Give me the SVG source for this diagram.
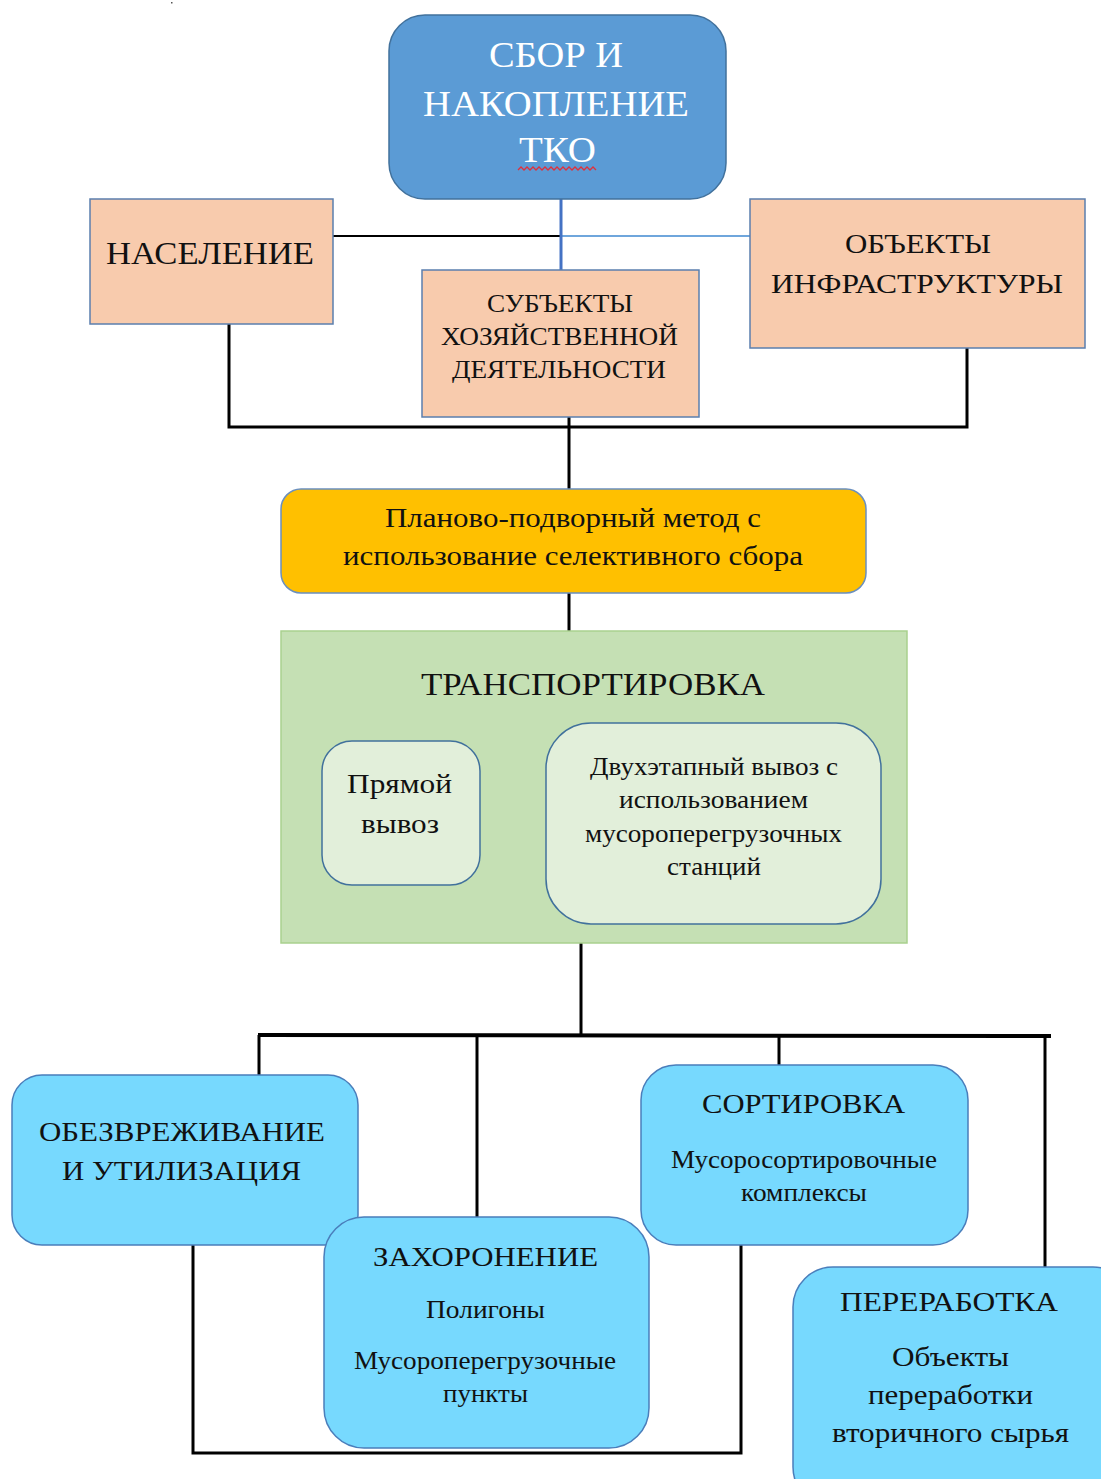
<svg xmlns="http://www.w3.org/2000/svg" width="1101" height="1479" viewBox="0 0 1101 1479">
<style>
text{font-family:"Liberation Serif","Times New Roman",serif;text-anchor:middle;fill:#111}
.w{fill:#fff}
.pe{fill:#F8CBAD;stroke:#5B7FAE;stroke-width:1.5}
.lb{fill:#77D9FE;stroke:#4A7EBB;stroke-width:1.5}
.ln{fill:none;stroke:#000;stroke-width:3}
</style>
<rect width="1101" height="1479" fill="#fff"/>
<rect x="171" y="2" width="1.5" height="1.5" fill="#555"/>
<g id="connectors">
<line x1="333" y1="236" x2="561" y2="236" stroke="#000" stroke-width="2"/>
<line x1="561" y1="236" x2="750" y2="236" stroke="#6FA6DC" stroke-width="2"/>
<line x1="561" y1="199" x2="561" y2="270" stroke="#4472C4" stroke-width="3"/>
<polyline class="ln" points="229,324 229,427 967,427 967,348"/>
<line class="ln" x1="569" y1="417" x2="569" y2="489"/>
<line class="ln" x1="569" y1="593" x2="569" y2="631"/>
<line class="ln" x1="581" y1="943" x2="581" y2="1035"/>
<line x1="258" y1="1035" x2="1051" y2="1036" stroke="#000" stroke-width="4"/>
<line class="ln" x1="259" y1="1035" x2="259" y2="1075"/>
<line class="ln" x1="477" y1="1035" x2="477" y2="1217"/>
<line class="ln" x1="779" y1="1035" x2="779" y2="1065"/>
<line class="ln" x1="1045" y1="1036" x2="1045" y2="1267"/>
<polyline class="ln" points="193,1245 193,1453 741,1453 741,1245"/>
</g>
<g id="sbor">
<rect x="389" y="15" width="337" height="184" rx="36" fill="#5B9BD5" stroke="#41719C" stroke-width="1.5"/>
<text class="w" x="556" y="67" font-size="36" textLength="134" lengthAdjust="spacingAndGlyphs">СБОР И</text>
<text class="w" x="556" y="116" font-size="36" textLength="266" lengthAdjust="spacingAndGlyphs">НАКОПЛЕНИЕ</text>
<text class="w" x="557.5" y="162" font-size="36" textLength="77" lengthAdjust="spacingAndGlyphs">ТКО</text>
<path d="M518,170 l3,-3 l3,3 l3,-3 l3,3 l3,-3 l3,3 l3,-3 l3,3 l3,-3 l3,3 l3,-3 l3,3 l3,-3 l3,3 l3,-3 l3,3 l3,-3 l3,3 l3,-3 l3,3 l3,-3 l3,3 l3,-3 l3,3 l3,-3 l3,3" fill="none" stroke="#E0303A" stroke-width="1.3"/>
</g>
<g id="naselenie">
<rect class="pe" x="90" y="199" width="243" height="125"/>
<text x="210" y="264" font-size="32" textLength="208" lengthAdjust="spacingAndGlyphs">НАСЕЛЕНИЕ</text>
</g>
<g id="subekty">
<rect class="pe" x="422" y="270" width="277" height="147"/>
<text x="560" y="312" font-size="26" textLength="146" lengthAdjust="spacingAndGlyphs">СУБЪЕКТЫ</text>
<text x="559.5" y="345" font-size="26" textLength="237" lengthAdjust="spacingAndGlyphs">ХОЗЯЙСТВЕННОЙ</text>
<text x="559" y="378" font-size="26" textLength="214" lengthAdjust="spacingAndGlyphs">ДЕЯТЕЛЬНОСТИ</text>
</g>
<g id="obekty">
<rect class="pe" x="750" y="199" width="335" height="149"/>
<text x="918" y="253" font-size="28" textLength="146" lengthAdjust="spacingAndGlyphs">ОБЪЕКТЫ</text>
<text x="917" y="293" font-size="28" textLength="292" lengthAdjust="spacingAndGlyphs">ИНФРАСТРУКТУРЫ</text>
</g>
<g id="metod">
<rect x="281" y="489" width="585" height="104" rx="20" fill="#FFC000" stroke="#6A8FBF" stroke-width="1.5"/>
<text x="573" y="527" font-size="28" textLength="376" lengthAdjust="spacingAndGlyphs">Планово-подворный метод с</text>
<text x="573" y="565" font-size="28" textLength="460" lengthAdjust="spacingAndGlyphs">использование селективного сбора</text>
</g>
<g id="transport">
<rect x="281" y="631" width="626" height="312" fill="#C5E0B4" stroke="#A9D18E" stroke-width="1.5"/>
<text x="593" y="695" font-size="31" textLength="344" lengthAdjust="spacingAndGlyphs">ТРАНСПОРТИРОВКА</text>
</g>
<g id="pryamoy">
<rect x="322" y="741" width="158" height="144" rx="30" fill="#E2EFDA" stroke="#41719C" stroke-width="1.5"/>
<text x="399.5" y="793" font-size="28" textLength="105" lengthAdjust="spacingAndGlyphs">Прямой</text>
<text x="400" y="833" font-size="28" textLength="78" lengthAdjust="spacingAndGlyphs">вывоз</text>
</g>
<g id="dvuh">
<rect x="546" y="723" width="335" height="201" rx="45" fill="#E2EFDA" stroke="#41719C" stroke-width="1.5"/>
<text x="714" y="775" font-size="25" textLength="248" lengthAdjust="spacingAndGlyphs">Двухэтапный вывоз с</text>
<text x="713.5" y="808" font-size="25" textLength="189" lengthAdjust="spacingAndGlyphs">использованием</text>
<text x="713.5" y="842" font-size="25" textLength="257" lengthAdjust="spacingAndGlyphs">мусороперегрузочных</text>
<text x="714" y="875" font-size="25" textLength="94" lengthAdjust="spacingAndGlyphs">станций</text>
</g>
<g id="obezvr">
<rect class="lb" x="12" y="1075" width="346" height="170" rx="30"/>
<text x="182" y="1141" font-size="28" textLength="286" lengthAdjust="spacingAndGlyphs">ОБЕЗВРЕЖИВАНИЕ</text>
<text x="181.5" y="1180" font-size="28" textLength="239" lengthAdjust="spacingAndGlyphs">И УТИЛИЗАЦИЯ</text>
</g>
<g id="sortirovka">
<rect class="lb" x="641" y="1065" width="327" height="180" rx="35"/>
<text x="803.5" y="1113" font-size="28" textLength="203" lengthAdjust="spacingAndGlyphs">СОРТИРОВКА</text>
<text x="804" y="1168" font-size="25" textLength="266" lengthAdjust="spacingAndGlyphs">Мусоросортировочные</text>
<text x="804" y="1201" font-size="25" textLength="126" lengthAdjust="spacingAndGlyphs">комплексы</text>
</g>
<g id="zahoronenie">
<rect class="lb" x="324" y="1217" width="325" height="231" rx="40"/>
<text x="485.5" y="1266" font-size="28" textLength="225" lengthAdjust="spacingAndGlyphs">ЗАХОРОНЕНИЕ</text>
<text x="485.5" y="1318" font-size="25" textLength="119" lengthAdjust="spacingAndGlyphs">Полигоны</text>
<text x="485" y="1369" font-size="25" textLength="262" lengthAdjust="spacingAndGlyphs">Мусороперегрузочные</text>
<text x="485.5" y="1402" font-size="25" textLength="85" lengthAdjust="spacingAndGlyphs">пункты</text>
</g>
<g id="pererabotka">
<rect class="lb" x="793" y="1267" width="340" height="240" rx="40"/>
<text x="949" y="1311" font-size="28" textLength="218" lengthAdjust="spacingAndGlyphs">ПЕРЕРАБОТКА</text>
<text x="950.5" y="1366" font-size="28" textLength="117" lengthAdjust="spacingAndGlyphs">Объекты</text>
<text x="950.5" y="1404" font-size="28" textLength="165" lengthAdjust="spacingAndGlyphs">переработки</text>
<text x="950.5" y="1442" font-size="28" textLength="237" lengthAdjust="spacingAndGlyphs">вторичного сырья</text>
</g>
</svg>
